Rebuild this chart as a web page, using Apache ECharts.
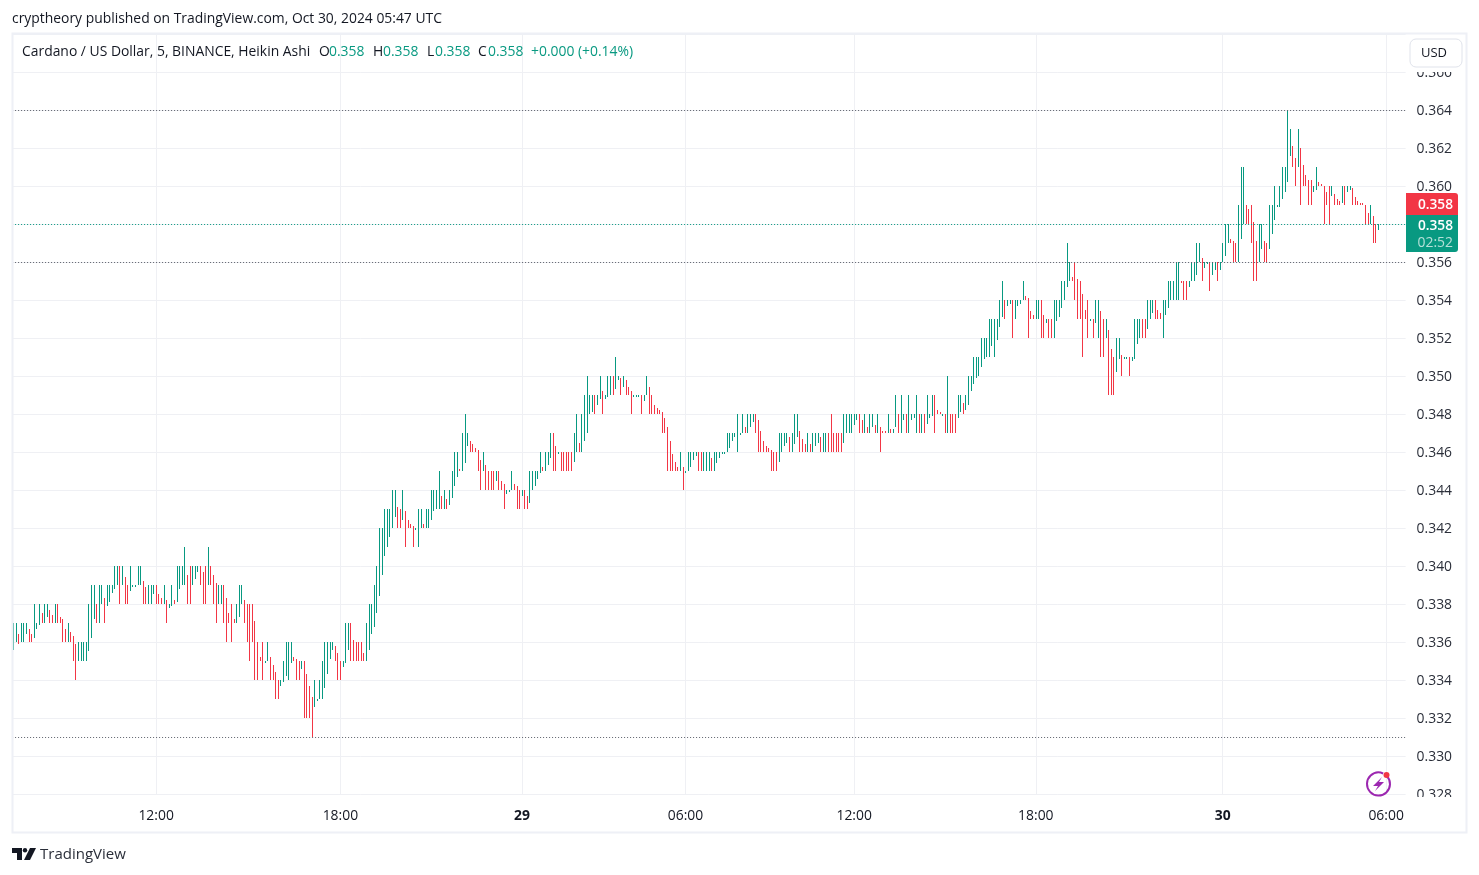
<!DOCTYPE html>
<html><head><meta charset="utf-8">
<style>html,body{margin:0;padding:0;background:#fff}#c{width:1479px;height:875px}</style>
<script src="https://cdn.jsdelivr.net/npm/echarts@6/dist/echarts.min.js"></script>
</head><body><div id="c"></div>
<script>
const highs=[
.337,.337,.3364,.337,.337,.337,.3367,.3364,.338,.337,
.338,.3375,.338,.338,.3377,.3374,.338,.338,.3373,.3372,
.3367,.337,.3365,.3363,.3359,.336,.336,.336,.336,.338,
.339,.339,.338,.339,.339,.3383,.339,.339,.339,.34,
.34,.34,.34,.3394,.339,.34,.339,.339,.34,.34,
.3392,.3389,.339,.339,.339,.339,.3385,.3383,.339,.3382,
.338,.339,.3382,.34,.34,.34,.341,.3395,.34,.34,
.34,.34,.34,.3397,.34,.341,.34,.3395,.3391,.339,
.339,.339,.3383,.3375,.338,.3372,.338,.339,.339,.3382,
.338,.338,.338,.3371,.336,.3352,.336,.335,.336,.3352,
.3348,.3344,.334,.334,.335,.336,.336,.336,.3352,.3351,
.335,.335,.335,.3343,.3337,.3331,.334,.333,.334,.335,
.336,.336,.336,.336,.3358,.3354,.335,.335,.337,.337,
.337,.3361,.336,.336,.336,.3354,.337,.338,.338,.339,
.34,.342,.342,.343,.343,.343,.344,.344,.3431,.343,
.344,.3429,.3424,.3422,.3421,.342,.343,.343,.3422,.343,
.343,.344,.344,.344,.345,.3437,.344,.3435,.344,.345,
.346,.346,.3451,.347,.348,.347,.3466,.3464,.3462,.3461,
.3456,.346,.3453,.345,.345,.345,.345,.345,.3445,.3443,
.344,.344,.345,.3443,.3442,.344,.344,.344,.3437,.345,
.345,.345,.345,.346,.3452,.346,.346,.347,.347,.3463,
.346,.346,.346,.346,.346,.346,.347,.348,.3465,.348,
.349,.35,.349,.349,.349,.349,.35,.3492,.349,.35,
.35,.35,.351,.35,.3499,.35,.3498,.3494,.3492,.349,
.349,.349,.349,.349,.35,.3494,.349,.3485,.3483,.3482,
.3481,.3478,.3473,.3466,.3459,.3455,.3452,.346,.3452,.345,
.346,.346,.346,.346,.346,.346,.346,.346,.346,.3457,
.346,.346,.346,.346,.346,.347,.347,.347,.347,.348,
.347,.348,.3473,.348,.348,.348,.348,.3477,.3471,.3466,
.3463,.3462,.3461,.346,.346,.347,.347,.347,.347,.3468,
.347,.348,.348,.3471,.3467,.3464,.347,.3464,.347,.347,
.347,.3468,.347,.347,.347,.348,.347,.347,.347,.347,
.348,.348,.348,.348,.348,.348,.348,.3477,.348,.3473,
.348,.348,.3474,.348,.3473,.3471,.3471,.348,.3472,.3472,
.349,.348,.349,.348,.348,.349,.348,.348,.349,.348,
.348,.348,.349,.348,.349,.349,.3482,.3481,.348,.348,
.35,.348,.348,.348,.349,.349,.3486,.349,.35,.35,
.351,.351,.351,.352,.352,.352,.353,.353,.353,.353,
.354,.355,.354,.354,.354,.354,.354,.354,.354,.355,
.3542,.3541,.3534,.3532,.354,.354,.354,.3532,.353,.353,
.353,.354,.354,.354,.355,.355,.357,.356,.3552,.356,
.3551,.355,.3543,.3535,.354,.353,.353,.354,.354,.3534,
.353,.353,.3524,.3514,.351,.352,.352,.3511,.351,.351,
.351,.351,.353,.353,.353,.353,.353,.354,.354,.354,
.354,.3535,.3533,.354,.354,.355,.355,.355,.356,.356,
.355,.355,.355,.355,.356,.356,.357,.357,.3562,.356,
.356,.356,.356,.356,.356,.356,.357,.358,.358,.3572,
.3571,.357,.359,.361,.361,.359,.3588,.359,.3581,.3571,
.358,.358,.3571,.357,.359,.359,.36,.359,.36,.361,
.361,.364,.363,.3621,.3615,.363,.362,.3611,.3606,.3603,
.3603,.36,.361,.3602,.3601,.36,.3597,.36,.36,.3596,
.3593,.3592,.36,.36,.36,.36,.3599,.3594,.3592,.3591,
.3591,.359,.3586,.359,.3584,.358,.358];
const lows=[
.3356,.336,.3359,.336,.336,.3364,.336,.336,.3362,.3367,
.3369,.337,.337,.3373,.337,.337,.337,.337,.337,.336,
.336,.336,.336,.335,.334,.335,.335,.335,.335,.3355,
.3362,.3372,.337,.337,.338,.337,.3379,.3381,.3386,.3388,
.339,.338,.339,.338,.338,.3387,.3389,.3389,.339,.339,
.338,.338,.338,.338,.3385,.338,.338,.338,.338,.337,
.3378,.3379,.338,.3381,.3388,.339,.339,.338,.338,.339,
.3393,.3397,.339,.338,.338,.339,.339,.338,.337,.338,
.338,.337,.336,.337,.336,.337,.337,.3373,.338,.337,
.336,.335,.336,.334,.334,.335,.334,.3349,.335,.334,
.334,.333,.333,.3337,.3339,.3342,.334,.3349,.335,.334,
.334,.3346,.332,.332,.332,.331,.3326,.3329,.333,.333,
.3336,.3343,.3351,.3356,.335,.334,.334,.3347,.3349,.3356,
.335,.335,.335,.335,.335,.335,.335,.3356,.3364,.3368,
.3375,.3384,.3395,.3405,.341,.3415,.342,.3426,.342,.342,
.3424,.341,.342,.342,.341,.3419,.341,.342,.342,.342,
.342,.3424,.3429,.343,.343,.343,.343,.343,.3432,.3436,
.3442,.3447,.345,.345,.3454,.3463,.346,.346,.346,.345,
.344,.345,.344,.344,.344,.344,.3445,.344,.344,.343,
.3438,.3439,.344,.344,.343,.343,.3437,.343,.343,.3433,
.344,.3442,.3446,.3449,.345,.345,.3453,.3457,.345,.345,
.3459,.345,.345,.345,.345,.345,.3455,.346,.346,.346,
.3466,.347,.348,.3481,.348,.3485,.3488,.348,.3488,.3489,
.349,.349,.3493,.3498,.349,.3494,.349,.349,.348,.3489,
.3489,.3489,.348,.3487,.349,.348,.348,.348,.348,.348,
.347,.347,.345,.345,.345,.345,.345,.345,.344,.3449,
.345,.3452,.3456,.3458,.345,.345,.345,.345,.345,.345,
.345,.3454,.3457,.3459,.3459,.346,.3462,.3466,.3468,.346,
.3469,.347,.347,.347,.3473,.3476,.347,.346,.346,.346,
.346,.346,.345,.345,.345,.3455,.346,.3463,.3465,.346,
.346,.3464,.3468,.346,.346,.346,.346,.346,.346,.3463,
.3465,.346,.346,.346,.346,.346,.346,.346,.346,.346,
.3465,.347,.347,.347,.3474,.3477,.347,.347,.347,.347,
.347,.3473,.347,.347,.346,.347,.347,.347,.347,.347,
.3473,.347,.347,.3477,.347,.347,.3477,.3478,.347,.347,
.347,.347,.3475,.3478,.3479,.347,.348,.348,.3479,.347,
.347,.347,.347,.347,.3478,.3481,.348,.3482,.3485,.3492,
.3496,.3499,.35,.3505,.3509,.351,.351,.3516,.351,.3519,
.3526,.3531,.353,.3537,.3538,.352,.353,.3537,.3538,.354,
.354,.352,.353,.353,.353,.353,.352,.352,.3528,.352,
.352,.352,.3529,.3531,.3536,.354,.3547,.355,.355,.354,
.353,.353,.351,.353,.352,.3529,.352,.3528,.352,.351,
.351,.352,.349,.349,.349,.3502,.3509,.35,.3509,.3509,
.35,.3508,.3509,.3517,.352,.352,.352,.3525,.353,.3533,
.353,.353,.353,.352,.3532,.3536,.354,.354,.354,.354,
.3549,.354,.354,.3547,.355,.355,.3553,.356,.355,.3557,
.3559,.3545,.3553,.3556,.355,.3556,.356,.3563,.357,.357,
.356,.356,.356,.3572,.358,.358,.358,.357,.355,.355,
.356,.3567,.356,.356,.3567,.3575,.3582,.3589,.3589,.3593,
.3597,.3602,.3616,.361,.36,.361,.359,.36,.36,.359,
.359,.3597,.3598,.36,.36,.358,.359,.358,.3595,.359,
.359,.359,.3591,.359,.3597,.3598,.359,.359,.359,.359,
.359,.358,.358,.358,.357,.357,.3577];
const sides=("GGRGGGRRGG"+"GRGGRRGRRR"+"RGRRRGGGGG"+"GGRGGRGGGG"+"GRGRRGGGGG"+"RRGGGRRRGR"+"GGRGGGGRRG"+"GGRRRGRRRG"+"GRRRRRGGGR"+"RRRRRRRGGR"
+"RRRGGGGGRR"+"RGRRRRGGGG"+"GGGGRRRGGG"+"RRRRRRGGGG"+"GGGGGGGGRR"+"GRRRRGGGRG"+"GGGGGRGRGG"+"GGRGGGRRRR"+"RGRRRRGRRR"+"GGGRRRGRRG"
+"GGGGRGGGRR"+"GRRRRRGGRG"+"GGGGRGGRGG"+"GRGGRGRRRG"+"GGRGGRRRRR"+"RRRRRRRGRG"+"GGGGRRGGGR"+"GGGGGGGGGG"+"GGRGGGRRRR"+"RRRRRGGGGR"
+"GGGRRRGRGG"+"GRGGRRRRRR"+"GGGGGGRRGR"+"GGRGRRRGRG"+"GRGGRGGGGR"+"GRGGGRRRGR"+"GRRRGGRGGG"+"GGGGGGGGGG"+"GGRGGRGGGG"+"RRRRGGRRGR"
+"RGGGGGGGRR"+"RRRRRGRGGR"+"RGRRRGGRGG"+"RGGGGRRGGG"+"RRRGGGGGGG"+"RRRGGGGGRG"+"GRGGRGGGGR"+"RRGGGRRRRR"+"GGRRGGGGGG"+"GGGRRGRRRR"
+"RGGRRRRRGR"+"RRGRGGRRRR"+"RRRGRRG").split("");
const tickBars=[55,126,196,259,324,394,466,529];
const tickLabels=["12:00","18:00","29","06:00","12:00","18:00","30","06:00"];
const boldTicks=["29","30"];
const levelLines=[0.364,0.356,0.331];
const lastPrice=0.358;
const slotCount=537;

const UP="#089981",DOWN="#f23645",GRID="#eff0f4",TXT="#131722",FONT="'Open Sans',sans-serif",FS=13.9;
const categories=Array.from({length:slotCount},(_,i)=>String(i));
const bars=highs.map((h,i)=>[i,lows[i],h,sides[i]==="G"?1:0]);
const legend=[[22,"Cardano / US Dollar, 5, BINANCE, Heikin Ashi",TXT],[319,"O",TXT],[329,"0.358",UP],[373,"H",TXT],[383,"0.358",UP],[427,"L",TXT],[435,"0.358",UP],[478,"C",TXT],[488,"0.358",UP],[531,"+0.000 (+0.14%)",UP]];
const txt=(x,y,text,fill,extra)=>({type:"text",z:110,x,y,style:Object.assign({text,fill,font:FS+"px "+FONT,textVerticalAlign:"middle"},extra||{})});
const graphic=[
 {type:"rect",z:100,shape:{x:1406,y:36,width:60,height:36},style:{fill:"#fff"}},
 {type:"rect",z:100,shape:{x:1406,y:797,width:60,height:35},style:{fill:"#fff"}},
 {type:"rect",z:105,shape:{x:12.5,y:33.5,width:1454,height:799},style:{fill:"none",stroke:"#eef0f6",lineWidth:2}},
 {type:"rect",z:106,shape:{x:1410,y:39,width:52,height:28,r:6},style:{fill:"#fff",stroke:"#e0e3eb",lineWidth:1}},
 txt(1434,53.5,"USD",TXT,{font:"13px "+FONT,textAlign:"center"}),
 txt(12,19,"cryptheory published on TradingView.com, Oct 30, 2024 05:47 UTC",TXT),
 ...legend.map(l=>txt(l[0],52,l[1],l[2])),
 {type:"rect",z:106,shape:{x:1406,y:193,width:52,height:22,r:[0,3,0,0]},style:{fill:DOWN}},
 {type:"rect",z:106,shape:{x:1406,y:215,width:52,height:37,r:[0,0,3,0]},style:{fill:UP}},
 txt(1453,205,"0.358","#fff",{textAlign:"right",font:"600 13.7px "+FONT}),
 txt(1453,226,"0.358","#fff",{textAlign:"right",font:"600 13.7px "+FONT}),
 txt(1453,243,"02:52","#b5e0d8",{textAlign:"right"}),
 {type:"arc",z:110,shape:{cx:1378.5,cy:784,r:11.5,startAngle:-0.75,endAngle:-1.15+6.28,clockwise:true},style:{stroke:"#9c27b0",lineWidth:2,fill:"none"}},
 {type:"polygon",z:110,shape:{points:[[1382,777],[1373,786],[1378,786],[1375,791],[1384,782],[1379,782]]},style:{fill:"#9c27b0"}},
 {type:"circle",z:111,shape:{cx:1386.5,cy:775,r:3},style:{fill:DOWN}},
 {type:"polygon",z:110,shape:{points:[[12,848],[22,848],[22,860],[17,860],[17,853],[12,853]]},style:{fill:"#131722"}},
 {type:"circle",z:110,shape:{cx:25,cy:850.2,r:2.2},style:{fill:"#131722"}},
 {type:"polygon",z:110,shape:{points:[[30,848],[36,848],[30,860],[24,860]]},style:{fill:"#131722"}},
 txt(40,855,"TradingView","#2a2e39",{font:"15px "+FONT})
];
const chart=echarts.init(document.getElementById("c"),null,{renderer:"canvas"});
chart.setOption({
 animation:false,
 grid:{left:12.1,width:1393.5,top:34,height:760},
 xAxis:{type:"category",data:categories,boundaryGap:true,
  axisLine:{show:false},axisTick:{show:false},
  splitLine:{show:true,alignWithLabel:true,interval:i=>tickBars.includes(i),lineStyle:{color:GRID,width:1}},
  axisLabel:{interval:i=>tickBars.includes(i),margin:15,hideOverlap:false,
   formatter:(v,i)=>{const l=tickLabels[tickBars.indexOf(Number(v))];return boldTicks.includes(l)?"{b|"+l+"}":l;},
   color:TXT,fontFamily:FONT,fontSize:FS,rich:{b:{fontWeight:"bold",fontSize:FS,color:TXT,fontFamily:FONT}}}},
 yAxis:{type:"value",position:"right",min:0.328,max:0.368,interval:0.002,scale:true,
  axisLine:{show:false},axisTick:{show:false},
  splitLine:{show:true,lineStyle:{color:GRID,width:1}},
  axisLabel:{margin:11,align:"left",
   formatter:v=>v>0.367?"":"{a|"+v.toFixed(3)+"}",
   rich:{a:{padding:[2,0,0,0],color:"#2a2e39",fontFamily:FONT,fontSize:FS}}}},
 series:[{type:"custom",data:bars,encode:{x:0,y:[1,2]},clip:true,
  renderItem:(params,api)=>{
   const lo=api.coord([api.value(0),api.value(1)]),hi=api.coord([api.value(0),api.value(2)]);
   const top=Math.round(hi[1]),bottom=Math.round(lo[1]);
   return {type:"rect",shape:{x:Math.floor(lo[0]+0.2),y:top,width:1,height:Math.max(1,bottom-top)},
    style:{fill:api.value(3)?UP:DOWN}};
  },
  markLine:{silent:true,symbol:"none",animation:false,precision:4,label:{show:false},
   data:[...levelLines.map(v=>({yAxis:v,lineStyle:{color:"#5d606b",type:[1,2],width:1}})),
    {yAxis:lastPrice,lineStyle:{color:UP,type:[1,2],width:1}}]}}],
 graphic
});
</script></body></html>
